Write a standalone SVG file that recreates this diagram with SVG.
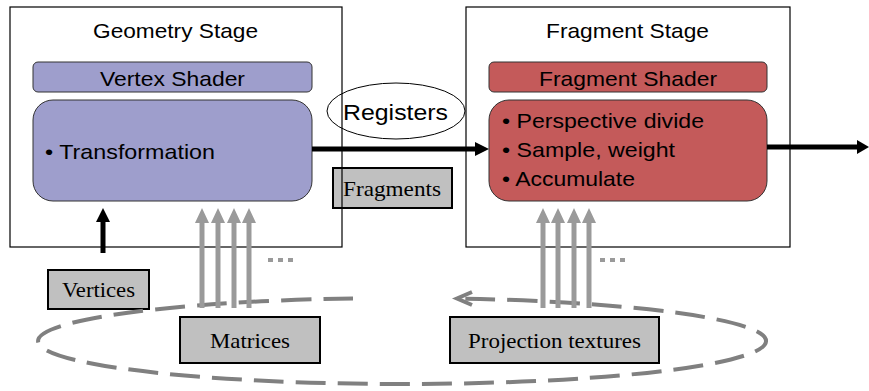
<svg xmlns="http://www.w3.org/2000/svg" width="869" height="391" viewBox="0 0 869 391">
<style>
.stage{fill:none;stroke:#000;stroke-width:1.2}
.purple{fill:#9e9ecc;stroke:#333;stroke-width:1}
.red{fill:#c45a5a;stroke:#333;stroke-width:1}
.gbox{fill:#c0c0c0;stroke:#000;stroke-width:2}
.sans{font-family:"Liberation Sans",Arial,sans-serif;font-size:21px;fill:#000}
.serif{font-family:"Liberation Serif","Times New Roman",serif;font-size:22px;fill:#000}
.blk{stroke:#000;stroke-width:5;fill:none}
.gry{stroke:#9a9a9a;stroke-width:5;fill:none}
.dots{fill:#9a9a9a}
</style>
<rect width="869" height="391" fill="#fff"/>
<g id="fragments">
<rect class="gbox" x="333" y="168" width="119" height="40"/>
<text class="serif" x="392" y="196" text-anchor="middle" textLength="98" lengthAdjust="spacingAndGlyphs">Fragments</text>
</g>
<g id="geometry-stage">
<rect class="stage" x="10" y="7" width="332" height="240"/>
<text class="sans" x="175.5" y="38" text-anchor="middle" textLength="165" lengthAdjust="spacingAndGlyphs">Geometry Stage</text>
</g>
<g id="fragment-stage">
<rect class="stage" x="466" y="7" width="324" height="240"/>
<text class="sans" x="627.5" y="38" text-anchor="middle" textLength="163" lengthAdjust="spacingAndGlyphs">Fragment Stage</text>
</g>
<g id="vertex-shader">
<rect class="purple" x="33" y="62" width="279" height="30" rx="5"/>
<text class="sans" x="172.5" y="86" text-anchor="middle" textLength="145" lengthAdjust="spacingAndGlyphs">Vertex Shader</text>
</g>
<g id="transformation">
<rect class="purple" x="33" y="100" width="279" height="101" rx="20"/>
<text class="sans" x="45" y="159" textLength="170" lengthAdjust="spacingAndGlyphs">• Transformation</text>
</g>
<g id="fragment-shader">
<rect class="red" x="489" y="62" width="278" height="30" rx="5"/>
<text class="sans" x="628" y="86" text-anchor="middle" textLength="178" lengthAdjust="spacingAndGlyphs">Fragment Shader</text>
</g>
<g id="fragment-ops">
<rect class="red" x="489" y="100" width="278" height="101" rx="20"/>
<text class="sans" x="502" y="128" textLength="202" lengthAdjust="spacingAndGlyphs">• Perspective divide</text>
<text class="sans" x="502" y="157" textLength="173" lengthAdjust="spacingAndGlyphs">• Sample, weight</text>
<text class="sans" x="502" y="186" textLength="133" lengthAdjust="spacingAndGlyphs">• Accumulate</text>
</g>
<g id="registers">
<ellipse cx="396" cy="111" rx="69" ry="28" fill="none" stroke="#000" stroke-width="1"/>
<text class="sans" x="395.5" y="120" text-anchor="middle" textLength="105" lengthAdjust="spacingAndGlyphs" style="font-size:22px">Registers</text>
</g>
<g id="vertices">
<rect class="gbox" x="48" y="270" width="101" height="39"/>
<text class="serif" x="98.5" y="297" text-anchor="middle" textLength="73" lengthAdjust="spacingAndGlyphs">Vertices</text>
</g>
<g id="matrices">
<rect class="gbox" x="180" y="317" width="140" height="46"/>
<text class="serif" x="250" y="348" text-anchor="middle" textLength="80" lengthAdjust="spacingAndGlyphs">Matrices</text>
</g>
<g id="projection-textures">
<rect class="gbox" x="450" y="317" width="209" height="46"/>
<text class="serif" x="554.5" y="348" text-anchor="middle" textLength="173" lengthAdjust="spacingAndGlyphs">Projection textures</text>
</g>
<g id="connectors">
<path d="M353 298.4 A364 43 0 1 0 457 298.5" fill="none" stroke="#808080" stroke-width="4" stroke-dasharray="30 12"/>
<path d="M472 292 L457 298.5 L472 305" fill="none" stroke="#808080" stroke-width="4"/>
<line class="blk" x1="312" y1="149" x2="476" y2="149"/>
<polygon points="475,142 489,149 475,156" fill="#000"/>
<line class="blk" x1="767" y1="147" x2="859" y2="147"/>
<polygon points="857,140 869,147 857,154" fill="#000"/>
<line class="blk" x1="103" y1="253" x2="103" y2="221"/>
<polygon points="96,222 103,208 110,222" fill="#000"/>
<g class="gry">
<line x1="202" y1="308" x2="202" y2="221"/>
<line x1="218" y1="308" x2="218" y2="221"/>
<line x1="234" y1="308" x2="234" y2="221"/>
<line x1="249" y1="308" x2="249" y2="221"/>
<line x1="543" y1="308" x2="543" y2="221"/>
<line x1="558" y1="308" x2="558" y2="221"/>
<line x1="574" y1="308" x2="574" y2="221"/>
<line x1="589" y1="308" x2="589" y2="221"/>
</g>
<g class="dots">
<polygon points="195,223 202,208 209,223"/>
<polygon points="211,223 218,208 225,223"/>
<polygon points="227,223 234,208 241,223"/>
<polygon points="242,223 249,208 256,223"/>
<polygon points="536,223 543,208 550,223"/>
<polygon points="551,223 558,208 565,223"/>
<polygon points="567,223 574,208 581,223"/>
<polygon points="582,223 589,208 596,223"/>
<rect x="268" y="258" width="5" height="4"/>
<rect x="278" y="258" width="5" height="4"/>
<rect x="288" y="258" width="5" height="4"/>
<rect x="600" y="258" width="5" height="4"/>
<rect x="610" y="258" width="5" height="4"/>
<rect x="620" y="258" width="5" height="4"/>
</g>
</g>
</svg>
